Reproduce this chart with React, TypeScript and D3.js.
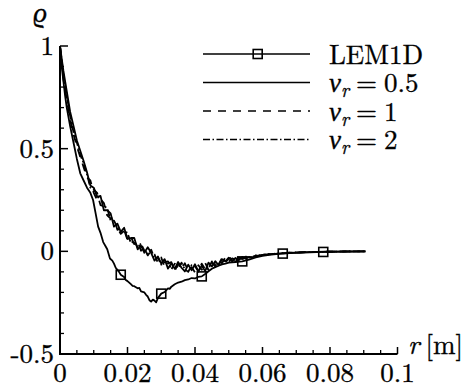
import React from "react";
import * as d3 from "d3";

// ---------- data ----------
const xTicksMajor = [0, 0.02, 0.04, 0.06, 0.08, 0.1];
const xTickLabels = ["0", "0.02", "0.04", "0.06", "0.08", "0.1"];
const yTicksMajor = [-0.5, 0, 0.5, 1];
const yTickLabels = ["-0.5", "0", "0.5", "1"];

// LEM1D curve
const lemR = [0, 0.0005, 0.001, 0.0015, 0.002, 0.003, 0.004, 0.005, 0.006, 0.007, 0.008, 0.009, 0.0098, 0.0105, 0.0113, 0.012, 0.0128, 0.0135, 0.014, 0.0148, 0.0155, 0.016, 0.0165, 0.017, 0.0175, 0.018, 0.019, 0.0195, 0.02, 0.021, 0.0215, 0.022, 0.023, 0.0235, 0.024, 0.025, 0.0255, 0.026, 0.0265, 0.027, 0.0275, 0.028, 0.0285, 0.029, 0.03, 0.031, 0.032, 0.0325, 0.033, 0.034, 0.035, 0.036, 0.037, 0.038, 0.039, 0.04, 0.041, 0.042, 0.043, 0.044, 0.045, 0.046, 0.047, 0.048, 0.049, 0.05, 0.052, 0.054, 0.056, 0.058, 0.06, 0.062, 0.064, 0.066, 0.068, 0.07, 0.072, 0.074, 0.076, 0.078, 0.08, 0.084, 0.0905];
const lemRho = [1.0, 0.9, 0.83, 0.76, 0.7, 0.61, 0.53, 0.45, 0.38, 0.345, 0.31, 0.285, 0.25, 0.19, 0.12, 0.09, 0.045, 0.025, 0.01, -0.035, -0.045, -0.06, -0.08, -0.09, -0.1, -0.114, -0.125, -0.14, -0.145, -0.16, -0.168, -0.17, -0.18, -0.178, -0.195, -0.2, -0.212, -0.22, -0.238, -0.245, -0.235, -0.24, -0.248, -0.228, -0.206, -0.198, -0.18, -0.183, -0.172, -0.16, -0.152, -0.148, -0.14, -0.137, -0.13, -0.132, -0.124, -0.122, -0.11, -0.097, -0.085, -0.077, -0.07, -0.064, -0.06, -0.055, -0.052, -0.049, -0.04, -0.03, -0.022, -0.017, -0.013, -0.011, -0.009, -0.007, -0.006, -0.005, -0.004, -0.003, -0.002, -0.001, 0];
const lemMarkR = [0.018, 0.03, 0.042, 0.054, 0.066, 0.078];
const lemMarkRho = [-0.114, -0.206, -0.122, -0.049, -0.011, -0.003];

// nu_r curves (r sampled every 0.001 from 0 to 0.06, then tail)
const nuR = [0, 0.001, 0.002, 0.003, 0.004, 0.005, 0.006, 0.007, 0.008, 0.009, 0.01, 0.011, 0.012, 0.013, 0.014, 0.015, 0.016, 0.017, 0.018, 0.019, 0.02, 0.021, 0.022, 0.023, 0.024, 0.025, 0.026, 0.027, 0.028, 0.029, 0.03, 0.031, 0.032, 0.033, 0.034, 0.035, 0.036, 0.037, 0.038, 0.039, 0.04, 0.041, 0.042, 0.043, 0.044, 0.045, 0.046, 0.047, 0.048, 0.049, 0.05, 0.051, 0.052, 0.053, 0.054, 0.055, 0.056, 0.057, 0.058, 0.059, 0.06, 0.062, 0.064, 0.066, 0.068, 0.07, 0.073, 0.076, 0.079, 0.082, 0.086, 0.0905];
const nu05 = [1.0, 0.88, 0.78, 0.68, 0.61, 0.54, 0.49, 0.44, 0.385, 0.32, 0.31, 0.265, 0.27, 0.2, 0.2, 0.185, 0.12, 0.135, 0.095, 0.115, 0.06, 0.065, 0.065, 0.01, 0.028, -0.007, 0.02, -0.007, -0.045, -0.025, -0.06, -0.038, -0.084, -0.058, -0.085, -0.052, -0.08, -0.098, -0.065, -0.092, -0.063, -0.098, -0.07, -0.096, -0.055, -0.074, -0.048, -0.068, -0.038, -0.049, -0.031, -0.049, -0.032, -0.043, -0.027, -0.036, -0.027, -0.03, -0.02, -0.023, -0.017, -0.014, -0.012, -0.009, -0.008, -0.006, -0.004, -0.003, -0.002, -0.0015, -0.0008, 0];
const nu1 = [1.0, 0.84, 0.74, 0.64, 0.57, 0.51, 0.46, 0.41, 0.36, 0.345, 0.285, 0.25, 0.255, 0.235, 0.175, 0.16, 0.16, 0.105, 0.11, 0.105, 0.055, 0.07, 0.035, 0.05, 0.003, 0.018, -0.02, 0.003, -0.015, -0.055, -0.03, -0.078, -0.059, -0.053, -0.095, -0.062, -0.085, -0.058, -0.095, -0.077, -0.103, -0.068, -0.09, -0.056, -0.09, -0.054, -0.073, -0.043, -0.058, -0.029, -0.051, -0.034, -0.047, -0.027, -0.038, -0.026, -0.031, -0.024, -0.026, -0.019, -0.019, -0.015, -0.011, -0.01, -0.007, -0.006, -0.004, -0.003, -0.002, -0.001, -0.0005, 0];
const nu2 = [1.0, 0.86, 0.76, 0.66, 0.58, 0.53, 0.47, 0.43, 0.375, 0.31, 0.3, 0.285, 0.225, 0.22, 0.21, 0.15, 0.15, 0.115, 0.085, 0.1, 0.09, 0.04, 0.05, 0.02, 0.038, 0.003, -0.015, 0.008, -0.035, -0.03, -0.065, -0.053, -0.049, -0.088, -0.06, -0.082, -0.055, -0.088, -0.1, -0.067, -0.073, -0.098, -0.06, -0.086, -0.085, -0.049, -0.063, -0.063, -0.033, -0.054, -0.036, -0.029, -0.047, -0.03, -0.041, -0.025, -0.03, -0.028, -0.021, -0.022, -0.017, -0.013, -0.012, -0.009, -0.007, -0.005, -0.004, -0.003, -0.002, -0.001, -0.0005, 0];

const legendLabels = ["LEM1D", "0.5", "1", "2"];

// ---------- layout ----------
const W = 466, H = 387;
const FONT = "'Latin Modern Roman', 'CMU Serif', 'Liberation Serif', serif";
const FS = 27;

export default function App() {
  const x = d3.scaleLinear().domain([0, 0.1]).range([60, 397.5]);
  const y = d3.scaleLinear().domain([-0.5, 1]).range([354, 46]);

  const line = d3
    .line<[number, number]>()
    .x((d) => x(d[0]))
    .y((d) => y(d[1]));

  const zipData = (rs: number[], vs: number[]) =>
    rs.slice(0, Math.min(rs.length, vs.length)).map((r, i) => [r, vs[i]] as [number, number]);

  const xMinor = d3.range(0, 0.1001, 0.005).filter((v) => Math.abs(v / 0.02 - Math.round(v / 0.02)) > 1e-6);
  const yMinor = d3.range(-0.5, 1.0001, 0.1).filter((v) => Math.abs(v / 0.5 - Math.round(v / 0.5)) > 1e-6);

  const series = [
    { data: nu2, dash: "7,2.5,1.5,2.5" },
    { data: nu1, dash: "8,7" },
    { data: nu05, dash: null },
  ];

  const sq = 9;
  const legendX0 = 203, legendX1 = 310, legendTextX = 329;
  const legendY = [54, 82.5, 111, 139.5];
  const legendDash = [null, null, "8,7", "7,2.5,1.5,2.5"];
  const textProps = { fontSize: FS, fill: "#000", stroke: "#000", strokeWidth: 0.35 };

  return (
    <svg
      width={W}
      height={H}
      style={{ position: "absolute", left: 0, top: 0, background: "#fff" }}
      fontFamily={FONT}
    >
      <rect x={0} y={0} width={W} height={H} fill="#fff" />
      {/* curves */}
      {series.map((s, i) => (
        <path
          key={i}
          d={line(zipData(nuR, s.data)) || ""}
          fill="none"
          stroke="#000"
          strokeWidth={1.8}
          strokeDasharray={s.dash || undefined}
          strokeLinejoin="round"
        />
      ))}
      <path d={line(zipData(lemR, lemRho)) || ""} fill="none" stroke="#000" strokeWidth={1.8} strokeLinejoin="round" />
      {lemMarkR.map((r, i) => (
        <rect
          key={i}
          x={x(r) - sq / 2}
          y={y(lemMarkRho[i]) - sq / 2}
          width={sq}
          height={sq}
          fill="none"
          stroke="#000"
          strokeWidth={1.6}
        />
      ))}

      {/* axes */}
      <line x1={x(0)} x2={x(0.1)} y1={y(-0.5)} y2={y(-0.5)} stroke="#000" strokeWidth={2} />
      <line x1={x(0)} x2={x(0)} y1={y(-0.5) + 1} y2={y(1)} stroke="#000" strokeWidth={2} />
      {xTicksMajor.map((v, i) => (
        <g key={"xm" + i}>
          <line x1={x(v)} x2={x(v)} y1={y(-0.5)} y2={y(-0.5) - 7} stroke="#000" strokeWidth={1.5} />
          <text x={x(v)} y={382} textAnchor="middle" {...textProps}>
            {xTickLabels[i]}
          </text>
        </g>
      ))}
      {xMinor.map((v, i) => (
        <line key={"xn" + i} x1={x(v)} x2={x(v)} y1={y(-0.5)} y2={y(-0.5) - 4} stroke="#000" strokeWidth={1.3} />
      ))}
      {yTicksMajor.map((v, i) => (
        <g key={"ym" + i}>
          <line x1={x(0)} x2={x(0) + 8} y1={y(v)} y2={y(v)} stroke="#000" strokeWidth={1.5} />
          <text x={54} y={y(v) + 9} textAnchor="end" {...textProps}>
            {yTickLabels[i]}
          </text>
        </g>
      ))}
      {yMinor.map((v, i) => (
        <line key={"yn" + i} x1={x(0)} x2={x(0) + 4} y1={y(v)} y2={y(v)} stroke="#000" strokeWidth={1.3} />
      ))}

      {/* axis titles */}
      <text x={40} y={22} fontStyle="italic" textAnchor="middle" {...textProps}>
        ϱ
      </text>
      <text x={408} y={354} {...textProps}>
        <tspan fontStyle="italic">r</tspan>
        <tspan dx={6}>[m]</tspan>
      </text>

      {/* legend */}
      {legendY.map((ly, i) => (
        <g key={"lg" + i}>
          <line
            x1={legendX0}
            x2={legendX1}
            y1={ly}
            y2={ly}
            stroke="#000"
            strokeWidth={1.6}
            strokeDasharray={legendDash[i] || undefined}
          />
          {i === 0 ? (
            <>
              <rect x={257.7 - sq / 2} y={ly - sq / 2} width={sq} height={sq} fill="none" stroke="#000" strokeWidth={1.6} />
              <text x={legendTextX} y={ly + 9.5} {...textProps}>
                {legendLabels[0]}
              </text>
            </>
          ) : (
            <text x={legendTextX} y={ly + 9.5} {...textProps}>
              <tspan fontStyle="italic">ν</tspan>
              <tspan fontStyle="italic" fontSize={19} dy={5}>r</tspan>
              <tspan dy={-5} dx={7}>=</tspan>
              <tspan dx={7}>{legendLabels[i]}</tspan>
            </text>
          )}
        </g>
      ))}
    </svg>
  );
}
